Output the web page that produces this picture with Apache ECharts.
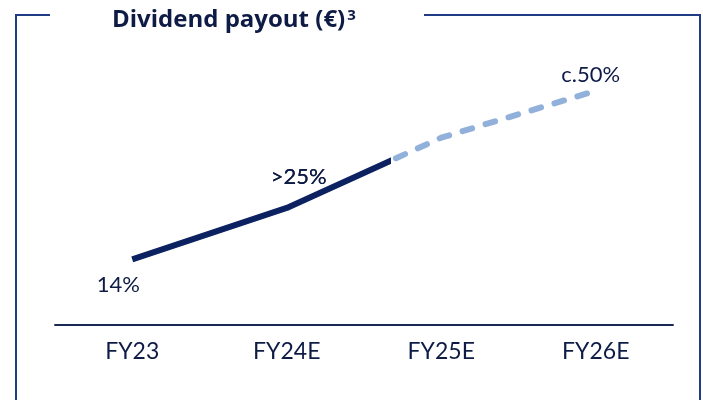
<!DOCTYPE html>
<html>
<head>
<meta charset="utf-8">
<script src="https://cdn.jsdelivr.net/npm/echarts@6/dist/echarts.min.js"></script>
<style>
  html, body { margin: 0; padding: 0; background: #fff; }
  #payoutChart { width: 703px; height: 400px; }
</style>
</head>
<body>
<div id="payoutChart"></div>
<script>
  // chart data
  var categories = ['FY23', 'FY24E', 'FY25E', 'FY26E'];
  var actualValues = [14, 25, 40, null];
  var targetValues = [null, 25, 40, 50];
  var pointLabels = ['14%', '>25%', '', 'c.50%'];

  var navy = '#0b2160';
  var textColor = '#0d1b45';
  var frameColor = '#1f3c84';
  var lightBlue = '#92b1da';

  var labelStyles = [
    { position: 'bottom', distance: 14, offset: [-14, 0] },
    { position: 'top', distance: 20, offset: [12, 0] },
    null,
    { position: 'top', distance: 4, offset: [-5, 0] }
  ];

  function buildData(values) {
    return values.map(function (v, i) {
      var item = { value: v };
      if (v != null && pointLabels[i] && labelStyles[i]) {
        item.label = Object.assign({ show: true, formatter: pointLabels[i] }, labelStyles[i]);
      }
      return item;
    });
  }

  var chart = echarts.init(document.getElementById('payoutChart'), null, { renderer: 'canvas' });

  chart.setOption({
    animation: false,
    title: {
      text: '{a|Dividend payout (€)}{b|3}',
      left: 107,
      top: 3,
      textStyle: {
        rich: {
          a: { fontFamily: 'Open Sans', fontWeight: 'bold', fontSize: 24, color: textColor, letterSpacing: 1.2 },
          b: { fontFamily: 'Open Sans', fontWeight: 'bold', fontSize: 15, color: textColor, verticalAlign: 'top', padding: [0, 0, 8, 2] }
        }
      }
    },
    grid: { left: 55, right: 30, top: 44, bottom: 75 },
    xAxis: {
      type: 'category',
      data: categories,
      axisLine: { lineStyle: { color: '#1b2a55', width: 2 } },
      axisTick: { show: false },
      axisLabel: { color: textColor, fontFamily: 'Lato', fontSize: 23, margin: 15 }
    },
    yAxis: {
      type: 'value',
      min: 0,
      max: 60,
      show: false,
      splitLine: { show: false }
    },
    series: [
      // dashed outlook part (starts visible past the solid end)
      {
        type: 'line',
        data: buildData(targetValues),
        symbol: 'circle',
        symbolSize: 1,
        showSymbol: true,
        itemStyle: { color: 'rgba(0,0,0,0)' },
        z: 2,
        lineStyle: {
          width: 6,
          cap: 'round',
          type: [10, 14],
          color: new echarts.graphic.LinearGradient(0, 0, 1, 0, [
            { offset: 0, color: 'rgba(255,255,255,0)' },
            { offset: 0.335, color: 'rgba(255,255,255,0)' },
            { offset: 0.335, color: lightBlue },
            { offset: 1, color: lightBlue }
          ])
        },
        label: { color: textColor, fontFamily: 'Lato', fontSize: 22, letterSpacing: 0.6 }
      },
      // solid actual part
      {
        type: 'line',
        data: buildData(actualValues),
        symbol: 'circle',
        symbolSize: 1,
        showSymbol: true,
        itemStyle: { color: 'rgba(0,0,0,0)' },
        z: 3,
        lineStyle: {
          width: 6,
          cap: 'butt',
          color: new echarts.graphic.LinearGradient(0, 0, 1, 0, [
            { offset: 0, color: navy },
            { offset: 0.83, color: navy },
            { offset: 0.83, color: 'rgba(255,255,255,0)' },
            { offset: 1, color: 'rgba(255,255,255,0)' }
          ])
        },
        label: { color: textColor, fontFamily: 'Lato', fontSize: 22, letterSpacing: 0.6 }
      }
    ],
    graphic: [
      { type: 'line', shape: { x1: 16, y1: 15, x2: 50, y2: 15 }, style: { stroke: frameColor, lineWidth: 2 } },
      { type: 'line', shape: { x1: 424, y1: 15, x2: 701, y2: 15 }, style: { stroke: frameColor, lineWidth: 2 } },
      { type: 'line', shape: { x1: 16, y1: 14, x2: 16, y2: 400 }, style: { stroke: frameColor, lineWidth: 2 } },
      { type: 'line', shape: { x1: 700, y1: 14, x2: 700, y2: 400 }, style: { stroke: frameColor, lineWidth: 2 } }
    ]
  });

  window.addEventListener('resize', function () {
    chart.resize();
  });
</script>
</body>
</html>
